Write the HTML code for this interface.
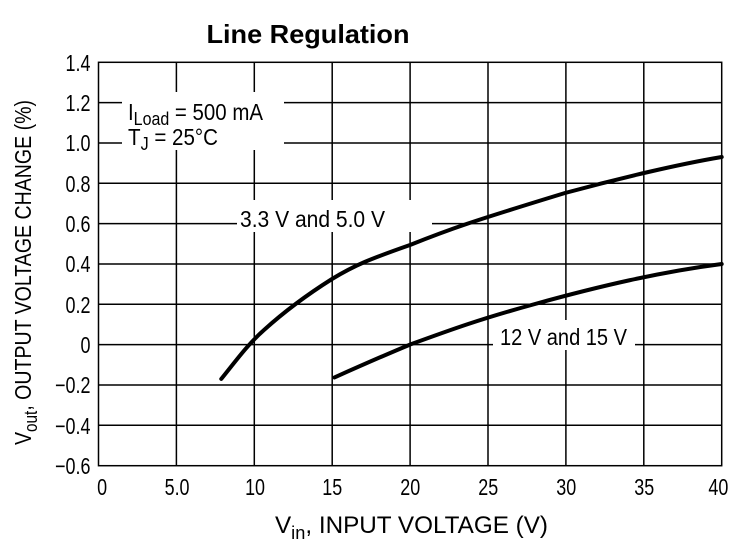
<!DOCTYPE html>
<html><head><style>body{margin:0;background:#fff}svg{display:block}text{font-family:"Liberation Sans",sans-serif;fill:#000}</style></head><body>
<svg width="746" height="552" viewBox="0 0 746 552">
<g stroke="#000" stroke-width="1.5" fill="none">
<rect x="98.5" y="62.3" width="623.2" height="403.4"/>
<path d="M176.4 62.3V465.7M254.3 62.3V465.7M332.2 62.3V465.7M410.1 62.3V465.7M488 62.3V465.7M565.9 62.3V465.7M643.8 62.3V465.7"/>
<path d="M98.5 102.6H721.7M98.5 143H721.7M98.5 183.3H721.7M98.5 223.6H721.7M98.5 264H721.7M98.5 304.3H721.7M98.5 344.6H721.7M98.5 385H721.7M98.5 425.3H721.7"/>
</g>
<rect x="122" y="92" width="162" height="58" fill="#fff"/>
<rect x="237" y="200" width="195" height="32" fill="#fff"/>
<rect x="493" y="320" width="142" height="30" fill="#fff"/>
<g stroke="#000" stroke-width="4" fill="none" stroke-linecap="round">
<path d="M221.3 378.9 C235 362,248 344,264 330 C285 311,305 296,332 279 C355 265,370 259,410 245 C450 229,470 222,565 193 C620 178,680 164,721.7 157"/>
<path d="M334.5 377.4 C360 366,385 355,410 344.6 C450 330,480 319,535 304 C600 286,660 272,721.7 264"/>
</g>
<text x="308" y="43" font-size="26" font-weight="bold" text-anchor="middle" textLength="203" lengthAdjust="spacingAndGlyphs">Line Regulation</text>
<g font-size="23" text-anchor="end" transform="scale(0.78,1)">
<text x="116" y="71">1.4</text><text x="116" y="111">1.2</text><text x="116" y="151">1.0</text><text x="116" y="192">0.8</text><text x="116" y="232">0.6</text><text x="116" y="272">0.4</text><text x="116" y="313">0.2</text><text x="116" y="353">0</text><text x="116" y="393">−0.2</text><text x="116" y="434">−0.4</text><text x="116" y="474">−0.6</text>
</g>
<g font-size="23" text-anchor="middle" transform="scale(0.78,1)">
<text x="131" y="495">0</text><text x="227" y="495">5.0</text><text x="327" y="495">10</text><text x="426" y="495">15</text><text x="526" y="495">20</text><text x="626" y="495">25</text><text x="726" y="495">30</text><text x="826" y="495">35</text><text x="921" y="495">40</text>
</g>
<text x="128" y="120" font-size="23" textLength="135" lengthAdjust="spacingAndGlyphs">I<tspan font-size="18" dy="5">Load</tspan><tspan dy="-5"> = 500 mA</tspan></text>
<text x="128" y="145" font-size="23" textLength="90" lengthAdjust="spacingAndGlyphs">T<tspan font-size="18" dy="5">J</tspan><tspan dy="-5"> = 25°C</tspan></text>
<text x="240" y="227" font-size="23" textLength="145" lengthAdjust="spacingAndGlyphs">3.3 V and 5.0 V</text>
<text x="500" y="345" font-size="23" textLength="127" lengthAdjust="spacingAndGlyphs">12 V and 15 V</text>
<text x="275" y="533" font-size="24" textLength="273" lengthAdjust="spacingAndGlyphs">V<tspan font-size="18" dy="6">in</tspan><tspan dy="-6">, INPUT VOLTAGE (V)</tspan></text>
<text transform="translate(31,445) rotate(-90)" font-size="23" textLength="345" lengthAdjust="spacingAndGlyphs">V<tspan font-size="18" dy="6">out</tspan><tspan dy="-6">, OUTPUT VOLTAGE CHANGE (%)</tspan></text>
</svg>
</body></html>
